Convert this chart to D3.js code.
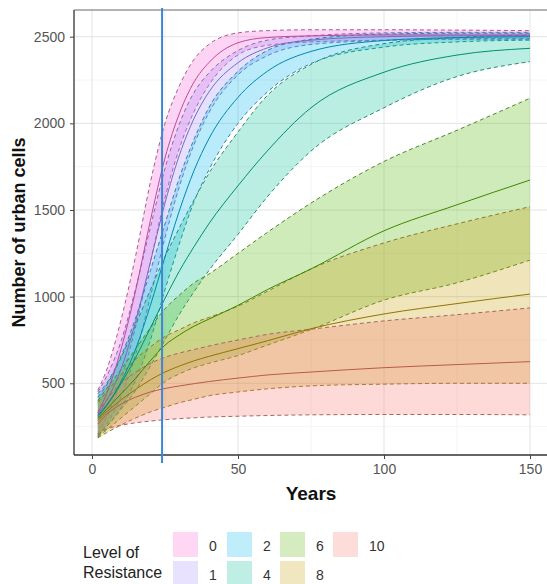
<!DOCTYPE html>
<html>
<head>
<meta charset="utf-8">
<script src="https://cdn.jsdelivr.net/npm/d3@7"></script>
<style>
  html, body { margin: 0; padding: 0; background: #fff; }
  svg { display: block; font-family: "Liberation Sans", Arial, sans-serif; }
</style>
</head>
<body>
<svg id="chart" width="547" height="584"></svg>
<script>
// Simulated urban growth by level of resistance: mean and spread bounds per year
const years = [2, 5, 10, 15, 20, 25, 30, 35, 40, 50, 60, 75, 100, 125, 150];
const levels = ["0", "1", "2", "4", "6", "8", "10"];
const levelColors = ["#FB61D7", "#A58AFF", "#00B6EB", "#00C094", "#53B400", "#C49A00", "#F8766D"];

const mean0  = [330, 440, 700, 1040, 1440, 1800, 2060, 2240, 2350, 2465, 2495, 2505, 2510, 2510, 2510];
const upper0 = [460, 577, 870, 1240, 1660, 2000, 2220, 2370, 2455, 2522, 2535, 2540, 2540, 2538, 2535];
const lower0 = [210, 305, 520, 830, 1200, 1570, 1860, 2070, 2220, 2395, 2450, 2470, 2480, 2488, 2490];

const mean1  = [320, 400, 585, 860, 1200, 1540, 1820, 2030, 2180, 2350, 2435, 2480, 2500, 2505, 2505];
const upper1 = [450, 540, 745, 1050, 1400, 1740, 2000, 2180, 2290, 2420, 2480, 2505, 2522, 2525, 2525];
const lower1 = [200, 265, 425, 670, 1000, 1340, 1640, 1880, 2060, 2280, 2390, 2455, 2478, 2485, 2485];

const mean2  = [315, 375, 510, 700, 950, 1230, 1500, 1730, 1910, 2150, 2300, 2415, 2478, 2495, 2500];
const upper2 = [440, 500, 660, 880, 1150, 1420, 1690, 1910, 2090, 2300, 2420, 2485, 2515, 2520, 2520];
const lower2 = [195, 250, 360, 520, 750, 1040, 1310, 1550, 1730, 2000, 2180, 2345, 2440, 2470, 2480];

const mean4  = [305, 370, 500, 650, 820, 990, 1150, 1290, 1420, 1640, 1840, 2090, 2295, 2394, 2433];
const upper4 = [420, 490, 650, 840, 1040, 1230, 1400, 1560, 1710, 1950, 2160, 2340, 2460, 2495, 2510];
const lower4 = [195, 250, 350, 460, 600, 750, 900, 1030, 1150, 1360, 1575, 1840, 2090, 2270, 2356];

const mean6  = [295, 350, 440, 530, 630, 720, 780, 830, 870, 950, 1040, 1160, 1380, 1530, 1673];
const upper6 = [400, 470, 580, 700, 820, 930, 1010, 1080, 1130, 1250, 1370, 1540, 1780, 1960, 2145];
const lower6 = [190, 230, 300, 370, 440, 510, 555, 590, 615, 660, 720, 810, 980, 1080, 1211];

const mean8  = [285, 335, 405, 465, 520, 565, 600, 630, 655, 700, 745, 815, 900, 960, 1015];
const upper8 = [390, 450, 550, 640, 710, 770, 810, 850, 880, 945, 1030, 1160, 1310, 1420, 1519];
const lower8 = [185, 215, 260, 300, 335, 362, 388, 408, 428, 450, 468, 485, 495, 500, 500];

const mean10  = [265, 320, 380, 420, 450, 470, 485, 498, 510, 530, 548, 565, 590, 608, 625];
const upper10 = [330, 405, 500, 565, 615, 650, 675, 695, 715, 750, 782, 812, 860, 896, 935];
const lower10 = [205, 235, 258, 272, 282, 290, 296, 301, 305, 310, 314, 318, 320, 320, 318];

const xTicks = [0, 50, 100, 150];
const xMinor = [25, 75, 125];
const yTicks = [500, 1000, 1500, 2000, 2500];
const yMinor = [250, 750, 1250, 1750, 2250];
const markerYear = 24;

const series = [
  {level: "0",  mean: mean0,  upper: upper0,  lower: lower0},
  {level: "1",  mean: mean1,  upper: upper1,  lower: lower1},
  {level: "2",  mean: mean2,  upper: upper2,  lower: lower2},
  {level: "4",  mean: mean4,  upper: upper4,  lower: lower4},
  {level: "6",  mean: mean6,  upper: upper6,  lower: lower6},
  {level: "8",  mean: mean8,  upper: upper8,  lower: lower8},
  {level: "10", mean: mean10, upper: upper10, lower: lower10}
];

const svg = d3.select("#chart");
const W = 547, H = 584;
svg.append("rect").attr("width", W).attr("height", H).attr("fill", "#fff");

const x = d3.scaleLinear().domain([0, 150]).range([92, 530]);
const y = d3.scaleLinear().domain([500, 2500]).range([383.3, 36.7]);
const color = d3.scaleOrdinal().domain(levels).range(levelColors);

const panel = {left: 74, top: 10, bottom: 455, right: 552};

svg.append("clipPath").attr("id", "panelClip")
  .append("rect")
  .attr("x", panel.left).attr("y", panel.top)
  .attr("width", panel.right - panel.left).attr("height", panel.bottom - panel.top);

const plot = svg.append("g").attr("clip-path", "url(#panelClip)");

// grid
plot.selectAll("line.vminor").data(xMinor).join("line")
  .attr("x1", d => x(d)).attr("x2", d => x(d))
  .attr("y1", panel.top).attr("y2", panel.bottom)
  .attr("stroke", "#f1f1f1").attr("stroke-width", 0.8);
plot.selectAll("line.hminor").data(yMinor).join("line")
  .attr("y1", d => y(d)).attr("y2", d => y(d))
  .attr("x1", panel.left).attr("x2", panel.right)
  .attr("stroke", "#f1f1f1").attr("stroke-width", 0.8);
plot.selectAll("line.vmajor").data(xTicks).join("line")
  .attr("x1", d => x(d)).attr("x2", d => x(d))
  .attr("y1", panel.top).attr("y2", panel.bottom)
  .attr("stroke", "#e3e3e3").attr("stroke-width", 1);
plot.selectAll("line.hmajor").data(yTicks).join("line")
  .attr("y1", d => y(d)).attr("y2", d => y(d))
  .attr("x1", panel.left).attr("x2", panel.right)
  .attr("stroke", "#e3e3e3").attr("stroke-width", 1);

const curve = d3.curveMonotoneX;
const area = d3.area()
  .x(d => x(d.year)).y0(d => y(d.lo)).y1(d => y(d.hi)).curve(curve);
const line = d3.line().x(d => x(d.year)).y(d => y(d.v)).curve(curve);

// ribbons with dashed bounds
series.forEach(s => {
  const c = color(s.level);
  const pts = years.map((yr, i) => ({year: yr, lo: s.lower[i], hi: s.upper[i]}));
  plot.append("path").datum(pts)
    .attr("d", area)
    .attr("fill", c).attr("fill-opacity", 0.27).attr("stroke", "none");
  const dashCol = d3.interpolateRgb(c, "#555")(0.5);
  [s.upper, s.lower].forEach(arr => {
    plot.append("path")
      .datum(years.map((yr, i) => ({year: yr, v: arr[i]})))
      .attr("d", line)
      .attr("fill", "none").attr("stroke", dashCol)
      .attr("stroke-width", 1).attr("stroke-dasharray", "4,3");
  });
});

// mean lines
series.forEach(s => {
  plot.append("path")
    .datum(years.map((yr, i) => ({year: yr, v: s.mean[i]})))
    .attr("d", line)
    .attr("fill", "none")
    .attr("stroke", d3.color(color(s.level)).darker(0.8))
    .attr("stroke-width", 1);
});

// panel border (top) and axis lines
svg.append("line").attr("x1", panel.left).attr("x2", W)
  .attr("y1", panel.top).attr("y2", panel.top)
  .attr("stroke", "#9a9a9a").attr("stroke-width", 1.3);
svg.append("line").attr("x1", panel.left).attr("x2", panel.left)
  .attr("y1", panel.top).attr("y2", panel.bottom)
  .attr("stroke", "#333").attr("stroke-width", 1.3);
svg.append("line").attr("x1", panel.left).attr("x2", W)
  .attr("y1", panel.bottom).attr("y2", panel.bottom)
  .attr("stroke", "#333").attr("stroke-width", 1.3);

// axes
const yAxis = svg.append("g").attr("transform", `translate(${panel.left},0)`)
  .call(d3.axisLeft(y).tickValues(yTicks).tickSize(4).tickPadding(5).tickFormat(d3.format("d")));
const xAxis = svg.append("g").attr("transform", `translate(0,${panel.bottom})`)
  .call(d3.axisBottom(x).tickValues(xTicks).tickSize(4).tickPadding(5).tickFormat(d3.format("d")));
[yAxis, xAxis].forEach(g => {
  g.select(".domain").remove();
  g.selectAll(".tick line").attr("stroke", "#444");
  g.selectAll(".tick text").attr("fill", "#555").attr("font-size", 14)
    .attr("font-family", "Liberation Sans, Arial, sans-serif");
});

// vertical marker
svg.append("line")
  .attr("x1", x(markerYear)).attr("x2", x(markerYear))
  .attr("y1", 8).attr("y2", 463)
  .attr("stroke", "#3c86d6").attr("stroke-width", 2);

// axis titles
svg.append("text")
  .attr("x", x(75)).attr("y", 500)
  .attr("text-anchor", "middle").attr("font-weight", "bold").attr("font-size", 19)
  .attr("fill", "#111").text("Years");
svg.append("text")
  .attr("transform", `translate(25,${(panel.top + panel.bottom) / 2}) rotate(-90)`)
  .attr("text-anchor", "middle").attr("font-weight", "bold").attr("font-size", 18)
  .attr("fill", "#111").text("Number of urban cells");

// legend
const legend = svg.append("g");
legend.append("text").attr("x", 83).attr("y", 557.5)
  .attr("font-size", 16).attr("fill", "#222").text("Level of");
legend.append("text").attr("x", 83).attr("y", 577.5)
  .attr("font-size", 16).attr("fill", "#222").text("Resistance");

const keyCols = [173, 227, 280, 333];
const keyRows = [532, 561];
levels.forEach((lv, i) => {
  const col = Math.floor(i / 2), row = i % 2;
  const kx = keyCols[col], ky = keyRows[row];
  legend.append("rect").attr("x", kx).attr("y", ky)
    .attr("width", 25).attr("height", 25)
    .attr("fill", color(lv)).attr("fill-opacity", 0.25);
  legend.append("text").attr("x", kx + 36).attr("y", ky + 19)
    .attr("font-size", 14).attr("fill", "#333").text(lv);
});
</script>
</body>
</html>
